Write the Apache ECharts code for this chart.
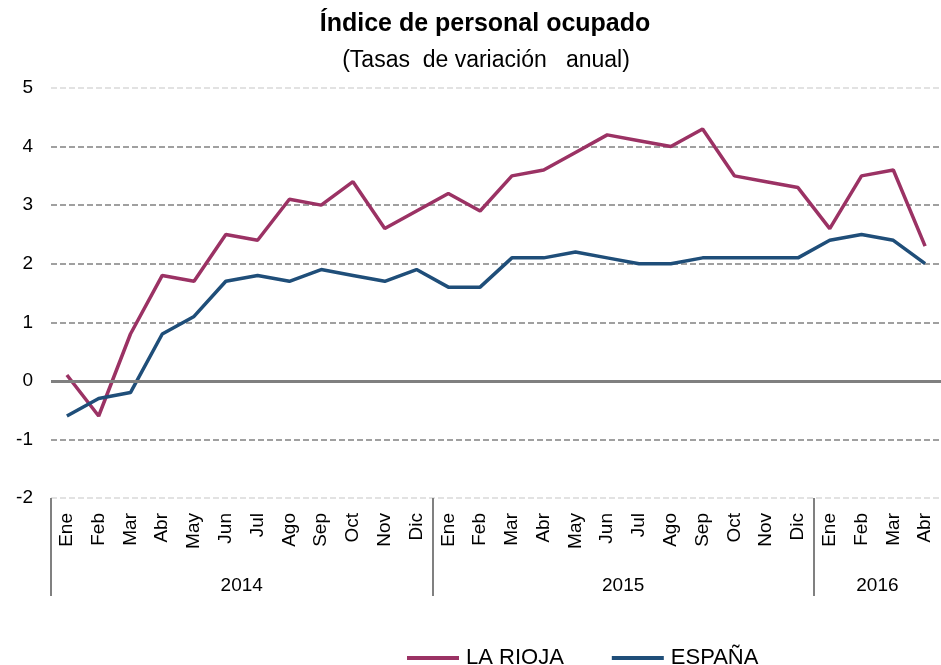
<!DOCTYPE html>
<html>
<head>
<meta charset="utf-8">
<script src="https://cdn.jsdelivr.net/npm/echarts@6/dist/echarts.min.js"></script>
<style>
html, body { margin: 0; padding: 0; background: #fff; }
#main { width: 941px; height: 665px; }
</style>
</head>
<body>
<div id="main"></div>
<script type="text/javascript">
var meses = ['Ene','Feb','Mar','Abr','May','Jun','Jul','Ago','Sep','Oct','Nov','Dic',
             'Ene','Feb','Mar','Abr','May','Jun','Jul','Ago','Sep','Oct','Nov','Dic',
             'Ene','Feb','Mar','Abr'];
var anios = ['2014', '2015', '2016'];
var anioInicio = [0, 12, 24];   // posición (en meses) donde empieza cada año
var anioCentro = [6, 18, 26];

var laRioja = [0.1, -0.6, 0.8, 1.8, 1.7, 2.5, 2.4, 3.1, 3.0, 3.4, 2.6, 2.9,
               3.2, 2.9, 3.5, 3.6, 3.9, 4.2, 4.1, 4.0, 4.3, 3.5, 3.4, 3.3,
               2.6, 3.5, 3.6, 2.3];
var espana  = [-0.6, -0.3, -0.2, 0.8, 1.1, 1.7, 1.8, 1.7, 1.9, 1.8, 1.7, 1.9,
               1.6, 1.6, 2.1, 2.1, 2.2, 2.1, 2.0, 2.0, 2.1, 2.1, 2.1, 2.1,
               2.4, 2.5, 2.4, 2.0];

var fuente = "'Liberation Sans', Arial, Helvetica, sans-serif";

var chart = echarts.init(document.getElementById('main'));
var option = {
    animation: false,
    textStyle: { fontFamily: fuente, color: '#000' },
    title: [
        {
            text: 'Índice de personal ocupado',
            left: 480, top: 7, textAlign: 'center',
            textStyle: { fontFamily: fuente, fontSize: 25, fontWeight: 'bold', color: '#000' }
        },
        {
            text: '(Tasas  de variación   anual)',
            left: 481, top: 44, textAlign: 'center',
            textStyle: { fontFamily: fuente, fontSize: 23, fontWeight: 'normal', color: '#000' }
        }
    ],
    legend: {
        left: 402, top: 642,
        icon: 'rect', itemWidth: 52, itemHeight: 4, itemGap: 48,
        textStyle: { fontFamily: fuente, fontSize: 22, color: '#000', padding: [0, 0, 0, 2] },
        data: ['LA RIOJA', 'ESPAÑA']
    },
    grid: { left: 51, right: 0, top: 88, bottom: 167 },
    xAxis: [
        {
            type: 'category',
            data: meses,
            boundaryGap: true,
            axisLine: { show: false },
            axisTick: { show: false },
            axisLabel: {
                interval: 0, rotate: 90, margin: 15,
                fontFamily: fuente, fontSize: 19, color: '#000'
            }
        },
        {
            type: 'value',
            min: 0, max: meses.length,
            position: 'bottom',
            axisLine: { show: false },
            splitLine: { show: false },
            axisTick: {
                show: true, customValues: anioInicio, length: 98,
                lineStyle: { color: '#808080', width: 2 }
            },
            axisLabel: {
                customValues: anioCentro, margin: 78,
                fontFamily: fuente, fontSize: 19, color: '#000',
                formatter: function (v) { return anios[anioCentro.indexOf(v)]; }
            }
        }
    ],
    yAxis: {
        type: 'value',
        min: -2, max: 5, interval: 1,
        axisLine: { show: false },
        axisTick: { show: false },
        axisLabel: { margin: 18, fontFamily: fuente, fontSize: 19, color: '#000' },
        splitLine: {
            lineStyle: {
                type: [6, 3], width: 2,
                color: ['#e2e2e2', '#a0a0a0', '#a0a0a0', '#a0a0a0', '#a0a0a0', '#a0a0a0', '#a0a0a0', '#e2e2e2']
            }
        }
    },
    series: [
        {
            name: 'LA RIOJA',
            type: 'line',
            data: laRioja,
            symbol: 'none',
            color: '#9b3264',
            lineStyle: { width: 3.5, color: '#9b3264' },
            markLine: {
                silent: true, symbol: 'none',
                label: { show: false },
                lineStyle: { type: 'solid', color: '#808080', width: 3 },
                data: [{ yAxis: 0 }]
            }
        },
        {
            name: 'ESPAÑA',
            type: 'line',
            data: espana,
            symbol: 'none',
            color: '#1f4e79',
            lineStyle: { width: 3.5, color: '#1f4e79' }
        }
    ]
};
chart.setOption(option);
</script>
</body>
</html>
